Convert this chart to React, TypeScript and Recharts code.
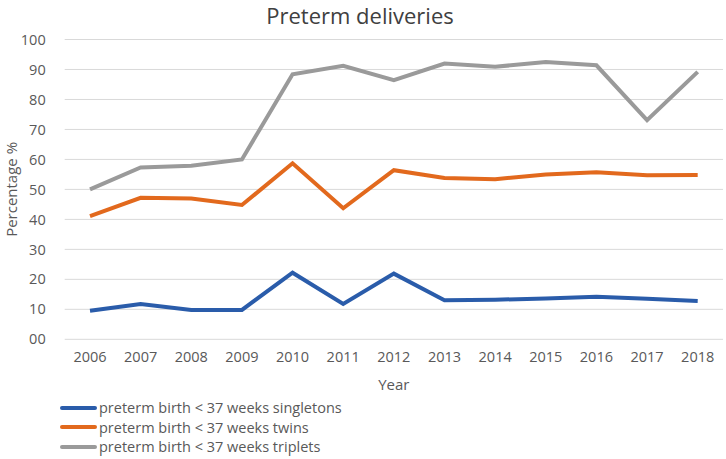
import { LineChart, Line, XAxis, YAxis, CartesianGrid, Legend } from "recharts"

const years = ["2006", "2007", "2008", "2009", "2010", "2011", "2012", "2013", "2014", "2015", "2016", "2017", "2018"]
const singletons = [9.5, 11.8, 9.8, 9.8, 22.2, 11.8, 21.9, 13.0, 13.2, 13.6, 14.2, 13.5, 12.8]
const twins = [41.1, 47.2, 47.0, 44.8, 58.7, 43.7, 56.4, 53.8, 53.4, 55.0, 55.7, 54.7, 54.8]
const triplets = [50.0, 57.3, 57.9, 60.0, 88.4, 91.2, 86.4, 92.0, 90.9, 92.5, 91.4, 73.1, 89.2]
const yTicks = [0, 10, 20, 30, 40, 50, 60, 70, 80, 90, 100]

const SERIES = [
  { key: "singletons", name: "preterm birth < 37 weeks singletons", color: "#2a5caa" },
  { key: "twins", name: "preterm birth < 37 weeks twins", color: "#e2691d" },
  { key: "triplets", name: "preterm birth < 37 weeks triplets", color: "#9a9a9a" },
]

const data = years.map((year, i) => ({
  year,
  singletons: singletons[i],
  twins: twins[i],
  triplets: triplets[i],
}))

const FONT = "'Open Sans', sans-serif"
const TEXT = "#595959"

function LegendBox() {
  return (
    <div style={{ fontFamily: FONT, fontSize: 14.5, color: TEXT, whiteSpace: "nowrap" }}>
      {SERIES.map((s) => (
        <div key={s.key} style={{ display: "flex", alignItems: "center", height: 19.5 }}>
          <span
            style={{
              display: "inline-block",
              width: 37,
              height: 4,
              borderRadius: 2,
              background: s.color,
              marginRight: 2,
            }}
          />
          <span>{s.name}</span>
        </div>
      ))}
    </div>
  )
}

export default function App() {
  return (
    <div style={{ position: "absolute", left: 0, top: 0, width: 726, height: 459, background: "#fff" }}>
      <div
        style={{
          position: "absolute",
          top: 0,
          left: -3,
          width: 726,
          textAlign: "center",
          fontFamily: FONT,
          fontSize: 22,
          color: "#404040",
          lineHeight: "30px",
        }}
      >
        Preterm deliveries
      </div>
      <LineChart
        width={726}
        height={459}
        data={data}
        margin={{ top: 39.5, right: 3, bottom: 0, left: 0 }}
      >
        <CartesianGrid vertical={false} stroke="#d9d9d9" />
        <XAxis
          dataKey="year"
          axisLine={false}
          tickLine={false}
          height={119.7}
          padding={{ left: 25.3, right: 25.3 }}
          tick={{ fill: TEXT, fontSize: 14.5, fontFamily: FONT }}
          tickMargin={6}
          interval={0}
          label={{
            value: "Year",
            position: "insideTop",
            offset: 40,
            style: { fill: TEXT, fontSize: 15, fontFamily: FONT },
          }}
        />
        <YAxis
          domain={[0, 100]}
          ticks={yTicks}
          width={64.7}
          axisLine={false}
          tickLine={false}
          tickFormatter={(v: number) => (v === 0 ? "00" : String(v))}
          tick={{ fill: TEXT, fontSize: 14.5, fontFamily: FONT }}
          tickMargin={13}
          label={{
            value: "Percentage %",
            angle: -90,
            position: "insideLeft",
            offset: 12,
            style: { fill: TEXT, fontSize: 15, fontFamily: FONT, textAnchor: "middle" },
          }}
        />
        <Legend
          layout="horizontal"
          verticalAlign="middle"
          align="center"
          wrapperStyle={{ top: 398, left: 60, width: "auto" }}
          content={() => <LegendBox />}
        />
        {SERIES.map((s) => (
          <Line
            key={s.key}
            type="linear"
            dataKey={s.key}
            name={s.name}
            stroke={s.color}
            strokeWidth={4}
            dot={false}
            activeDot={false}
            isAnimationActive={false}
          />
        ))}
      </LineChart>
    </div>
  )
}
